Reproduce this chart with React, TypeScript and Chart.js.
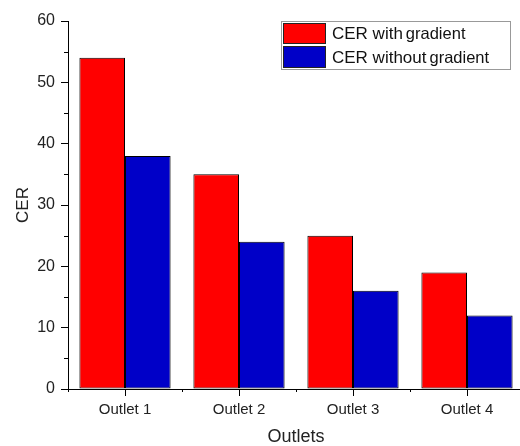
import React, { useEffect, useRef } from "react";
import { Chart, registerables } from "chart.js";

Chart.register(...registerables);

const categories = ["Outlet 1", "Outlet 2", "Outlet 3", "Outlet 4"];
const withGradient = [54, 35, 25, 19];
const withoutGradient = [38, 24, 16, 12];
const seriesLabels = ["CER with", "CER without"];
const seriesSuffix = "gradient";
const yMinorTicks = [5, 15, 25, 35, 45, 55];

const RED = "#FF0000";
const BLUE = "#0000C8";
const FONT = '"Liberation Sans", Arial, sans-serif';

const minorTicksPlugin = {
  id: "minorTicks",
  afterDraw(chart: any) {
    const ctx = chart.ctx;
    const x = chart.scales.x;
    const y = chart.scales.y;
    ctx.save();
    ctx.strokeStyle = "#000";
    ctx.lineWidth = 1;
    ctx.beginPath();
    for (const v of yMinorTicks) {
      const py = Math.round(y.getPixelForValue(v)) + 0.5;
      ctx.moveTo(y.right - 4, py);
      ctx.lineTo(y.right, py);
    }
    for (let i = 0; i <= categories.length; i++) {
      const px = Math.round(x.getPixelForValue(i - 0.5)) + 0.5;
      ctx.moveTo(px, x.top);
      ctx.lineTo(px, x.top + 3);
    }
    ctx.stroke();
    ctx.restore();
  },
};

const legendPlugin = {
  id: "customLegend",
  afterDraw(chart: any) {
    const ctx = chart.ctx;
    ctx.save();
    ctx.strokeStyle = "#999";
    ctx.lineWidth = 1;
    ctx.strokeRect(281.5, 21.5, 229, 48);
    const colors = [RED, BLUE];
    const rows = [
      { y: 23, h: 21, base: 39 },
      { y: 46, h: 22, base: 63 },
    ];
    rows.forEach((r, i) => {
      ctx.fillStyle = colors[i];
      ctx.fillRect(283, r.y, 43, r.h);
      ctx.strokeStyle = "#222";
      ctx.strokeRect(283.5, r.y + 0.5, 42, r.h - 1);
      ctx.fillStyle = "#111";
      ctx.textBaseline = "alphabetic";
      ctx.textAlign = "left";
      ctx.font = `17px ${FONT}`;
      const label = seriesLabels[i];
      ctx.fillText(label, 332, r.base);
      const w = ctx.measureText(label).width;
      ctx.font = `16.5px ${FONT}`;
      ctx.fillText(seriesSuffix, 332 + w + 3, r.base);
    });
    ctx.restore();
  },
};

export default function App() {
  const ref = useRef<HTMLCanvasElement>(null);
  useEffect(() => {
    if (!ref.current) return;
    const chart = new Chart(ref.current, {
      type: "bar",
      data: {
        labels: categories,
        datasets: [
          {
            label: seriesLabels[0] + " " + seriesSuffix,
            data: withGradient,
            backgroundColor: RED,
            borderColor: "#000",
            borderWidth: 1,
            borderSkipped: false,
          },
          {
            label: seriesLabels[1] + " " + seriesSuffix,
            data: withoutGradient,
            backgroundColor: BLUE,
            borderColor: "#000",
            borderWidth: 1,
            borderSkipped: false,
          },
        ],
      },
      options: {
        responsive: false,
        animation: false,
        devicePixelRatio: 1,
        layout: { padding: { left: 0, right: 4, top: 21, bottom: 0 } },
        datasets: { bar: { categoryPercentage: 0.8, barPercentage: 1 } },
        plugins: { legend: { display: false }, tooltip: { enabled: false } },
        scales: {
          x: {
            grid: {
              offset: false,
              drawOnChartArea: false,
              drawTicks: true,
              tickLength: 7,
              color: "#000",
            },
            border: { display: true, color: "#000", width: 1 },
            ticks: {
              color: "#222",
              font: { family: FONT, size: 15 },
              padding: 5,
              maxRotation: 0,
            },
            title: {
              display: true,
              text: "Outlets",
              color: "#222",
              font: { family: FONT, size: 18 },
              padding: { top: -2, bottom: -2 },
            },
            afterFit(scale: any) {
              scale.height = 57;
            },
          },
          y: {
            min: 0,
            max: 60,
            grid: {
              drawOnChartArea: false,
              drawTicks: true,
              tickLength: 7,
              color: "#000",
            },
            border: { display: true, color: "#000", width: 1 },
            ticks: {
              stepSize: 10,
              color: "#222",
              font: { family: FONT, size: 16 },
              padding: 6,
            },
            title: {
              display: true,
              text: "CER",
              color: "#222",
              font: { family: FONT, size: 17 },
              padding: { top: 13, bottom: 0 },
            },
            afterFit(scale: any) {
              scale.width = 68;
            },
          },
        },
      },
      plugins: [minorTicksPlugin, legendPlugin],
    });
    return () => chart.destroy();
  }, []);
  return (
    <div
      style={{
        position: "absolute",
        left: 0,
        top: 0,
        width: 520,
        height: 446,
        overflow: "hidden",
        background: "#fff",
      }}
    >
      <canvas ref={ref} width={528} height={446} style={{ display: "block" }} />
    </div>
  );
}
